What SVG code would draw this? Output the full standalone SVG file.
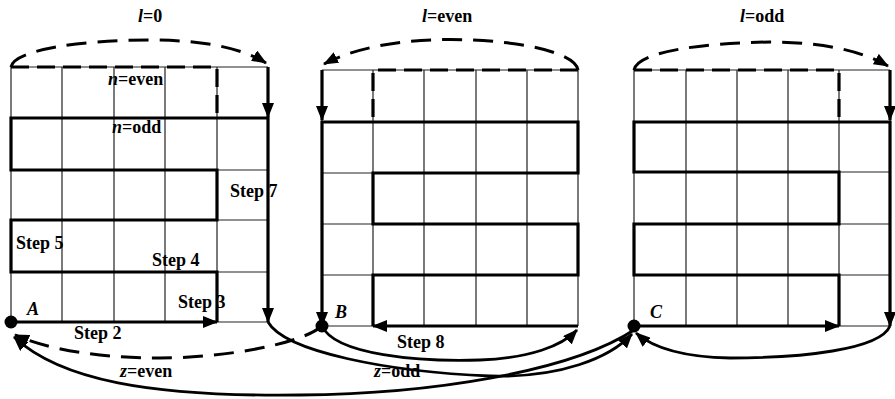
<svg xmlns="http://www.w3.org/2000/svg" width="895" height="399" viewBox="0 0 895 399">
  <style>
    .grid { stroke: #222; stroke-width: 1.2; fill: none; }
    .thick { stroke: #000; stroke-width: 3.2; fill: none; stroke-linejoin: miter; }
    .dash { stroke: #000; stroke-width: 3.2; fill: none; stroke-dasharray: 18 8; }
    .arc { stroke: #000; stroke-width: 3; fill: none; stroke-dasharray: 20 11; }
    .curve { stroke: #000; stroke-width: 2.8; fill: none; }
    .lbl { font-family: "Liberation Serif", "Times New Roman", serif; font-weight: bold; font-size: 18px; fill: #000; }
    .it { font-style: italic; }
    .dot { fill: #000; }
  </style>
  <defs>
    <marker id="head" markerUnits="userSpaceOnUse" markerWidth="16" markerHeight="12" refX="14" refY="6" orient="auto">
      <path d="M0,0 L15,6 L0,12 Z" fill="#000"/>
    </marker>
  </defs>

  <!-- layer l=0 -->
  <g id="layer-l0">
    <path class="grid" d="M11,67 H268 M11,118 H268 M11,170 H268 M11,220 H268 M11,272 H268 M11,322 H268 M11,67 V322 M62,67 V322 M114,67 V322 M165,67 V322 M217,67 V322 M268,67 V322"/>
    <path class="dash" d="M11,67 H217 V118"/>
    <path class="thick" d="M217,322 V272 H11 V220 H217 V170 H11 V118 H268 V322" marker-end="url(#head)"/>
    <path class="thick" d="M11,322 H217" marker-end="url(#head)"/>
    <path class="thick" d="M268,67 V117" marker-end="url(#head)"/>
    <path class="arc" d="M11,67 C14,50 80,40 150,40 C200,40 240,47 266,63" marker-end="url(#head)"/>
    <circle class="dot" cx="11" cy="322" r="6.5"/>
    <text class="lbl" x="138" y="22"><tspan class="it">l</tspan>=0</text>
    <text class="lbl" x="108" y="85"><tspan class="it">n</tspan>=even</text>
    <text class="lbl" x="112" y="133"><tspan class="it">n</tspan>=odd</text>
    <text class="lbl" x="230" y="197">Step 7</text>
    <text class="lbl" x="16" y="249">Step 5</text>
    <text class="lbl" x="152" y="266">Step 4</text>
    <text class="lbl" x="178" y="308">Step 3</text>
    <text class="lbl" x="74" y="339">Step 2</text>
    <text class="lbl it" x="27" y="315">A</text>
  </g>

  <!-- layer l=even -->
  <g id="layer-leven">
    <path class="grid" d="M322,70 H578 M322,122 H578 M322,173 H578 M322,224 H578 M322,275 H578 M322,326 H578 M322,70 V326 M373,70 V326 M424,70 V326 M476,70 V326 M527,70 V326 M578,70 V326"/>
    <path class="dash" d="M578,70 H373 V122"/>
    <path class="thick" d="M373,326 V275 H578 V224 H373 V173 H578 V122 H322 V326" marker-end="url(#head)"/>
    <path class="thick" d="M578,326 H373" marker-end="url(#head)"/>
    <path class="thick" d="M322,70 V120" marker-end="url(#head)"/>
    <path class="arc" d="M578,70 C576,56 540,46 500,42 C440,36 370,40 324,64" marker-end="url(#head)"/>
    <circle class="dot" cx="322" cy="326" r="6.5"/>
    <text class="lbl" x="422" y="22"><tspan class="it">l</tspan>=even</text>
    <text class="lbl" x="397" y="348">Step 8</text>
    <text class="lbl it" x="335" y="318">B</text>
  </g>

  <!-- layer l=odd -->
  <g id="layer-lodd">
    <path class="grid" d="M634,70 H890 M634,122 H890 M634,172 H890 M634,224 H890 M634,275 H890 M634,326 H890 M634,70 V326 M686,70 V326 M737,70 V326 M788,70 V326 M839,70 V326 M890,70 V326"/>
    <path class="dash" d="M634,70 H839 V122"/>
    <path class="thick" d="M839,326 V275 H634 V224 H839 V172 H634 V122 H890 V326" marker-end="url(#head)"/>
    <path class="thick" d="M634,326 H839" marker-end="url(#head)"/>
    <path class="thick" d="M890,70 V120" marker-end="url(#head)"/>
    <path class="arc" d="M634,70 C637,52 700,43 770,42 C820,42 860,50 888,66" marker-end="url(#head)"/>
    <circle class="dot" cx="634" cy="326" r="6.5"/>
    <text class="lbl" x="740" y="22"><tspan class="it">l</tspan>=odd</text>
    <text class="lbl it" x="650" y="318">C</text>
  </g>

  <!-- transitions between layers -->
  <g id="connectors">
    <path class="arc" d="M322,326 C300,345 220,358 160,358 C100,358 50,350 15,335" marker-end="url(#head)"/>
    <path class="curve" d="M634,330 C570,372 430,394 300,395 C150,397 60,380 14,337" marker-end="url(#head)"/>
    <path class="curve" d="M268,322 C285,352 390,372 490,376 C560,378 610,358 632,334" marker-end="url(#head)"/>
    <path class="curve" d="M322,326 C335,355 420,362 480,360 C530,358 562,346 577,330" marker-end="url(#head)"/>
    <path class="curve" d="M890,326 C880,350 800,358 730,358 C680,357 652,347 636,333" marker-end="url(#head)"/>
    <text class="lbl" x="120" y="377"><tspan class="it">z</tspan>=even</text>
    <text class="lbl" x="374" y="377"><tspan class="it">z</tspan>=odd</text>
  </g>
</svg>
